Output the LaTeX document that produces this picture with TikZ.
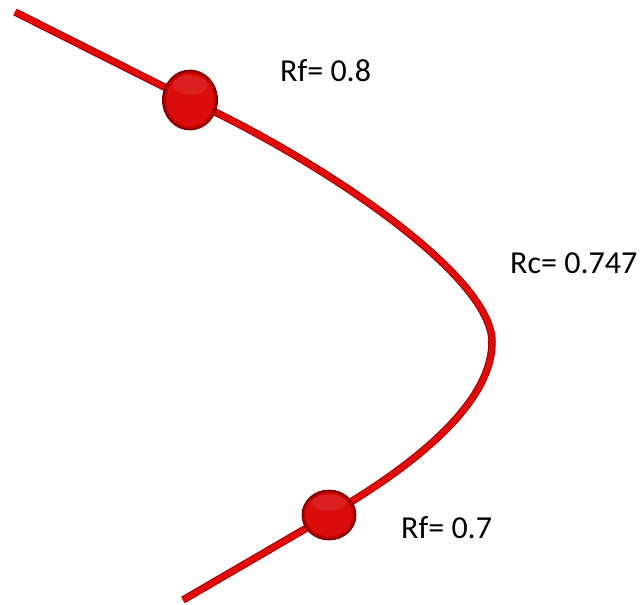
\documentclass[tikz,border=0pt]{standalone}
\usepackage{fontspec}
\setmainfont{Carlito}
\usetikzlibrary{shapes.geometric}
\definecolor{curvered}{RGB}{226,10,10}
\definecolor{curvedark}{RGB}{175,0,0}
\definecolor{ballin}{RGB}{218,12,12}
\definecolor{ballmid}{RGB}{190,4,4}
\definecolor{ballout}{RGB}{130,0,0}
\tikzset{
  ballnode/.style 2 args={ellipse, fill=ballin, draw=ballout, line width=0.8pt, inner sep=0pt,
    minimum width=2*#1 pt, minimum height=2*#2 pt,
    path picture={
      \draw[ballmid, line width=7pt] (path picture bounding box.center) ellipse [x radius=#1pt, y radius=#2pt];
      \draw[ballout!80!ballmid, line width=3pt] (path picture bounding box.center) ellipse [x radius=#1pt, y radius=#2pt];
      \fill[white, opacity=0.08] ([yshift=0.5*#2 pt]path picture bounding box.center) ellipse [x radius=0.65*#1 pt, y radius=0.32*#2 pt];
    }},
  lbl/.style={anchor=base west, inner sep=0pt, font=\fontsize{32}{38}\selectfont, text=black},
}
\begin{document}
\begin{tikzpicture}[x=1pt,y=-1pt]
\useasboundingbox (0,0) rectangle (644,604);
\coordinate (s) at (15,12);
\coordinate (b1) at (190,100);
\coordinate (tip) at (492,342);
\coordinate (b2) at (329,515);
\coordinate (e) at (183,600);
\foreach \w/\c in {7.5/curvedark,5/curvered}{
  \draw[line width=\w pt, \c] (s) -- (b1) .. controls (320,160) and (492,275) .. (tip)
     .. controls (492,405) and (410,468) .. (b2) -- (e);
}
\node[ballnode={27.5}{30}] (ball1) at (b1) {};
\node[ballnode={27}{25}] (ball2) at (b2) {};
\node[lbl] (rf1) at (280,82) {Rf= 0.8};
\node[lbl] (rc) at (510,273) {Rc= 0.747};
\node[lbl] (rf2) at (401,538) {Rf= 0.7};
\end{tikzpicture}
\end{document}
